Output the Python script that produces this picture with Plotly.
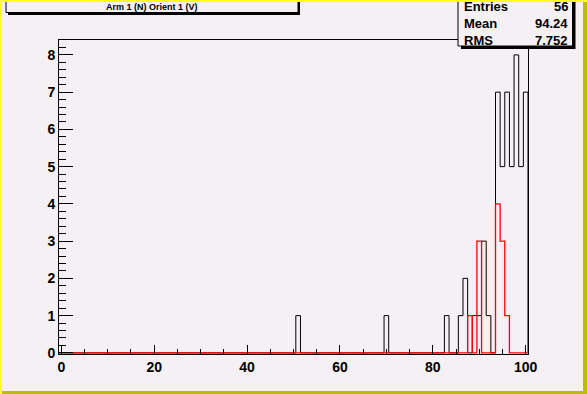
import numpy as np
import plotly.graph_objects as go

# ---- data ----
black_bins = [51, 70, 83, 86, 87, 89, 90, 91, 92, 94, 95, 96, 97, 98, 99, 100]
black_counts = [1, 1, 1, 1, 2, 1, 1, 3, 1, 7, 5, 7, 5, 8, 5, 7]
red_bins = [88, 90, 94, 95, 96]
red_counts = [1, 3, 4, 3, 1]
x_tick_vals = [0, 20, 40, 60, 80, 100]
y_tick_vals = [0, 1, 2, 3, 4, 5, 6, 7, 8]
title_text = "Arm 1 (N) Orient 1 (V)"
stats_labels = ["Entries", "Mean", "RMS"]
stats_values = ["56", "94.24", "7.752"]

# ---- geometry ----
W, H = 587, 394
ML, MR, MT, MB = 59, 59, 40, 40
PW, PH = W - ML - MR, H - MT - MB
BG = "#f4f0f4"
FONT = "Liberation Sans, Arial, Helvetica, sans-serif"


def px(x):
    return (x - ML) / PW


def py(y):
    return (H - MB - y) / PH


edges = np.arange(-0.5, 101.0, 1.0)  # 101 bins of width 1 centred on 0..100


def step_xy(bins, counts):
    full = np.zeros(len(edges) - 1)
    for b, c in zip(bins, counts):
        full[int(b)] = c
    xs = np.concatenate([edges, [edges[-1]]])
    ys = np.concatenate([full, [full[-1]], [0]])
    return xs, ys


fig = go.Figure()
bx, by = step_xy(black_bins, black_counts)
fig.add_trace(go.Scatter(x=bx, y=by, mode="lines", line=dict(color="black", width=1, shape="hv"),
                         hoverinfo="skip", showlegend=False))
rx, ry = step_xy(red_bins, red_counts)
fig.add_trace(go.Scatter(x=rx, y=ry, mode="lines", line=dict(color="#ff0000", width=1.3, shape="hv"),
                         hoverinfo="skip", showlegend=False))

tickfont = dict(family=FONT, size=14, color="black", weight="bold")

fig.update_xaxes(range=[-0.5, 100.5], showgrid=False, zeroline=False,
                 showline=True, linecolor="black", linewidth=1, mirror=True,
                 ticks="inside", ticklen=9, tickcolor="black", tickwidth=1,
                 tickvals=x_tick_vals, tickfont=tickfont,
                 minor=dict(ticks="inside", ticklen=5, dtick=5, tick0=0, tickcolor="black", showgrid=False))
fig.update_yaxes(range=[-0.03, 8.4], showgrid=False, zeroline=False,
                 showline=True, linecolor="black", linewidth=1, mirror=True,
                 ticks="inside", ticklen=14, tickcolor="black", tickwidth=1,
                 tickvals=y_tick_vals, tickfont=tickfont,
                 minor=dict(ticks="inside", ticklen=7, dtick=0.2, tick0=0, tickcolor="black", showgrid=False))

shapes = []
# title box with shadow
shapes.append(dict(type="rect", xref="paper", yref="paper", x0=px(8), x1=px(300), y0=py(15), y1=py(-3),
                   fillcolor="black", line=dict(width=0), layer="above"))
shapes.append(dict(type="rect", xref="paper", yref="paper", x0=px(6), x1=px(298), y0=py(12.5), y1=py(-3),
                   fillcolor=BG, line=dict(color="black", width=1), layer="above"))
# stats box with shadow
shapes.append(dict(type="rect", xref="paper", yref="paper", x0=px(461), x1=px(575.5), y0=py(49), y1=py(-3),
                   fillcolor="black", line=dict(width=0), layer="above"))
shapes.append(dict(type="rect", xref="paper", yref="paper", x0=px(458), x1=px(572.5), y0=py(46), y1=py(-3),
                   fillcolor=BG, line=dict(color="black", width=1), layer="above"))
# canvas borders
shapes.append(dict(type="rect", xref="paper", yref="paper", x0=px(0), x1=px(W), y0=py(2), y1=py(0),
                   fillcolor="#ffff20", line=dict(width=0), layer="above"))
shapes.append(dict(type="rect", xref="paper", yref="paper", x0=px(0), x1=px(2), y0=py(H), y1=py(0),
                   fillcolor="#ffff20", line=dict(width=0), layer="above"))
shapes.append(dict(type="rect", xref="paper", yref="paper", x0=px(583), x1=px(W), y0=py(H), y1=py(2),
                   fillcolor="#bcbc00", line=dict(width=0), layer="above"))
shapes.append(dict(type="rect", xref="paper", yref="paper", x0=px(2), x1=px(W), y0=py(H), y1=py(391),
                   fillcolor="#bcbc00", line=dict(width=0), layer="above"))

annotations = [dict(text=title_text, xref="paper", yref="paper", x=px(152), y=py(6.5),
                    xanchor="center", yanchor="middle", showarrow=False,
                    font=dict(family=FONT, size=9, color="black", weight="bold"))]
row_y = [7, 23.5, 40]
for lab, val, yy in zip(stats_labels, stats_values, row_y):
    annotations.append(dict(text=lab, xref="paper", yref="paper", x=px(462), y=py(yy),
                            xanchor="left", yanchor="middle", showarrow=False,
                            font=dict(family=FONT, size=13, color="black", weight="bold")))
    annotations.append(dict(text=val, xref="paper", yref="paper", x=px(570), y=py(yy),
                            xanchor="right", yanchor="middle", showarrow=False,
                            font=dict(family=FONT, size=13, color="black", weight="bold")))

fig.update_layout(width=W, height=H, autosize=False,
                  margin=dict(l=ML, r=MR, t=MT, b=MB, pad=0),
                  paper_bgcolor=BG, plot_bgcolor=BG,
                  shapes=shapes, annotations=annotations, showlegend=False)

fig.write_html("out.html", config={"displayModeBar": False})
